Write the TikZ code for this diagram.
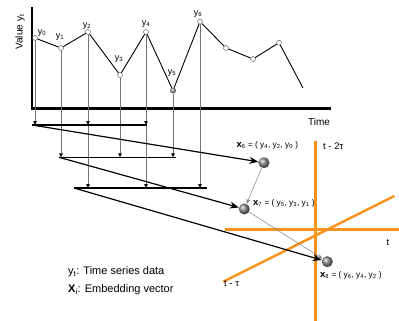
\documentclass[tikz,border=0pt]{standalone}
\usepackage{fontspec}
\setmainfont{Liberation Sans}
\usetikzlibrary{arrows.meta}
\newcommand\sbs[1]{\textsubscript{#1}}
\definecolor{axorange}{RGB}{247,148,29}
\begin{document}
\begin{tikzpicture}[x=1pt,y=-1pt,
  pt/.style={circle,draw=black!70,fill=white,inner sep=0pt,minimum size=5pt,line width=0.4pt},
  ball/.style={circle,inner sep=0pt,minimum size=11pt,ball color=black!45},
  lab/.style={font=\fontsize{9}{10}\selectfont,inner sep=0pt},
  vlab/.style={font=\fontsize{8.3}{9}\selectfont,inner sep=0pt},
  drop/.style={black!55,line width=0.6pt,-{Triangle[width=3.5pt,length=4pt,color=black]}},
  bar/.style={line width=1.3pt},
  emb/.style={line width=1.2pt,-{Stealth[length=9pt,width=7pt]}},
  link/.style={gray,line width=0.5pt,-{Stealth[length=5pt,width=4pt]}},
  oax/.style={axorange,line width=2.5pt}]
\useasboundingbox (0,0) rectangle (399,321);
% axes
\draw[line width=2.5pt] (32,7) -- (32,108.5) -- (331,108.5);
\node[lab,rotate=90,font=\fontsize{10}{11}\selectfont] (vy) at (20,32) {Value y\sbs{t}};
\node[lab,font=\fontsize{10}{11}\selectfont] (time) at (319,122) {Time};
% series points
\node[pt] (p0) at (35,38) {};
\node[pt] (p1) at (61,48) {};
\node[pt] (p2) at (88,32) {};
\node[pt] (p3) at (120,75) {};
\node[pt] (p4) at (146,32) {};
\node[circle,inner sep=0pt,minimum size=6pt,ball color=black!40] (p5) at (173,90.5) {};
\node[pt] (p6) at (200,21.7) {};
\node[pt] (p7) at (226,48) {};
\node[pt] (p8) at (253,59) {};
\node[pt] (p9) at (279,42.7) {};
\coordinate (pe) at (303,88);
\draw[line width=0.9pt] (p0) -- (p1) -- (p2) -- (p3) -- (p4) -- (p5) -- (p6) -- (p7) -- (p8) -- (p9) -- (pe);
% point labels
\node[lab] (l0) at (42,33) {y\sbs{0}};
\node[lab] (l1) at (60,37) {y\sbs{1}};
\node[lab] (l2) at (87,26) {y\sbs{2}};
\node[lab] (l3) at (119,59) {y\sbs{3}};
\node[lab] (l4) at (146,24) {y\sbs{4}};
\node[lab] (l5) at (172,73) {y\sbs{5}};
\node[lab] (l6) at (198,14) {y\sbs{6}};
% bars
\coordinate (b1l) at (32,125);   \coordinate (b1r) at (147,125);
\coordinate (b2l) at (59,157.3); \coordinate (b2r) at (176,157.3);
\coordinate (b3l) at (74,188);   \coordinate (b3r) at (207,188);
% drop lines
\draw[drop] (p0) -- (p0|-b1l);
\draw[drop] (p2) -- (p2|-b1l);
\draw[drop] (p4) -- (p4|-b1l);
\draw[drop] (p1) -- (p1|-b2l);
\draw[drop] (p3) -- (p3|-b2l);
\draw[drop] (p5) -- (p5|-b2l);
\draw[drop] (p2|-b1l) -- (p2|-b3l);
\draw[drop] (p4|-b1l) -- (p4|-b3l);
\draw[drop] (p6) -- (p6|-b3l);
\draw[bar] (b1l) -- (b1r);
\draw[bar] (b2l) -- (b2r);
\draw[bar] (b3l) -- (b3r);
% orange axes
\coordinate (ot) at (315.7,140.5); \coordinate (ob) at (315.7,321);
\coordinate (ol) at (225,229.3);   \coordinate (or) at (399,229.3);
\coordinate (od1) at (223.3,281.7); \coordinate (od2) at (394.3,196);
\draw[oax] (ot) -- (ob);
\draw[oax] (ol) -- (or);
\draw[oax] (od1) -- (od2);
\node[lab,anchor=west,font=\fontsize{9.5}{10}\selectfont] (t2) at (323,146) {t - 2τ};
\node[lab,font=\fontsize{9.5}{10}\selectfont] (t0) at (388,242) {t};
\node[lab,anchor=west,font=\fontsize{9.5}{10}\selectfont] (t1) at (224,283.5) {t - τ};
% embedding vectors
\node[ball] (x6) at (264,162.7) {};
\node[ball] (x7) at (244.3,209) {};
\node[ball] (x8) at (327.3,261.7) {};
\draw[emb] (b1l) -- (x6);
\draw[emb] (b2l) -- (x7);
\draw[emb] (b3l) -- (x8);
\draw[link] (x6) -- (x7);
\draw[link] (x7) -- (x8);
\node[vlab,anchor=west] (lx6) at (236.5,145) {\textbf{\fontsize{9.5}{10}\selectfont x}\sbs{6} = ( y\sbs{4}, y\sbs{2}, y\sbs{0} )};
\node[vlab,anchor=west] (lx7) at (253,203) {\textbf{\fontsize{9.5}{10}\selectfont x}\sbs{7} = ( y\sbs{5}, y\sbs{3}, y\sbs{1} )};
\node[vlab,anchor=west] (lx8) at (320,275) {\textbf{\fontsize{9.5}{10}\selectfont x}\sbs{8} = ( y\sbs{6}, y\sbs{4}, y\sbs{2} )};
% legend
\node[lab,anchor=west,font=\fontsize{11}{12}\selectfont] (lg1) at (68,272) {y\sbs{t}: Time series data};
\node[lab,anchor=west,font=\fontsize{11}{12}\selectfont] (lg2) at (68,290) {\textbf{X}\sbs{i}: Embedding vector};
\end{tikzpicture}
\end{document}
